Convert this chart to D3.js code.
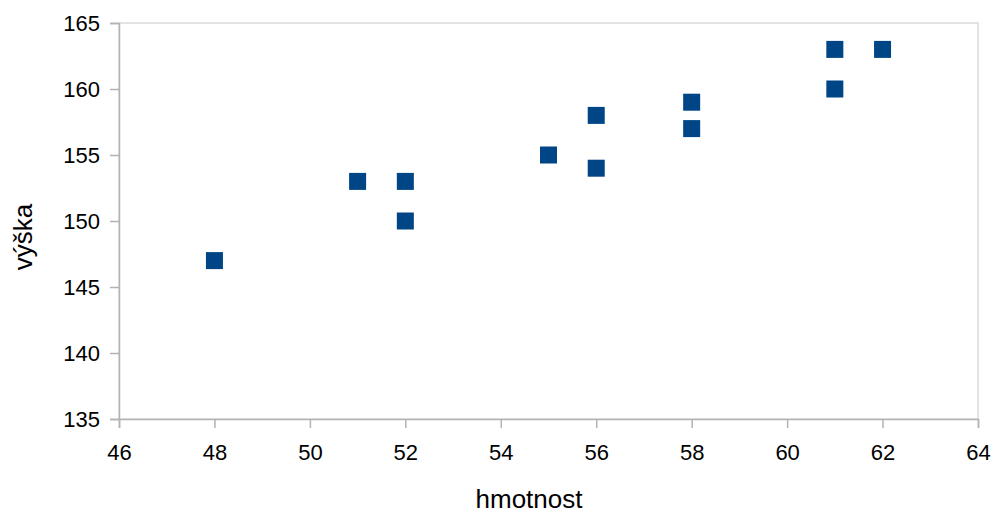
<!DOCTYPE html>
<html>
<head>
<meta charset="utf-8">
<script src="https://cdn.jsdelivr.net/npm/d3@7"></script>
<style>
  html, body { margin: 0; padding: 0; background: #fff; }
  svg { display: block; font-family: "Liberation Sans", Arial, sans-serif; }
</style>
</head>
<body>
<svg id="chart" width="993" height="514"></svg>
<script>
// weight (kg) vs height (cm)
const hmotnost = [48, 51, 52, 52, 55, 56, 56, 58, 58, 61, 61, 62];
const vyska    = [147, 153, 153, 150, 155, 158, 154, 159, 157, 163, 160, 163];
const xTicks = [46, 48, 50, 52, 54, 56, 58, 60, 62, 64];
const yTicks = [135, 140, 145, 150, 155, 160, 165];

const svg = d3.select("#chart");
const plot = { left: 119, right: 978, top: 23, bottom: 419 };

const x = d3.scaleLinear().domain([46, 64]).range([plot.left, plot.right]);
const y = d3.scaleLinear().domain([135, 165]).range([plot.bottom, plot.top]);

// plot frame
svg.append("rect")
  .attr("x", plot.left).attr("y", plot.top)
  .attr("width", plot.right - plot.left).attr("height", plot.bottom - plot.top)
  .attr("fill", "none").attr("stroke", "#c8c8c8").attr("stroke-width", 1);

const xAxis = svg.append("g")
  .attr("transform", `translate(0,${plot.bottom})`)
  .call(d3.axisBottom(x).tickValues(xTicks).tickSize(9).tickPadding(16).tickFormat(d3.format("d")));
const yAxis = svg.append("g")
  .attr("transform", `translate(${plot.left},0)`)
  .call(d3.axisLeft(y).tickValues(yTicks).tickSize(9).tickPadding(10).tickFormat(d3.format("d")));

[xAxis, yAxis].forEach(g => {
  g.select(".domain").attr("stroke", "#b3b3b3").attr("stroke-width", 1.5);
  g.selectAll(".tick line").attr("stroke", "#b3b3b3").attr("stroke-width", 1.5);
  g.selectAll(".tick text").attr("fill", "#000").style("font-size", "22px")
    .style("font-family", "'Liberation Sans', Arial, sans-serif");
});
yAxis.selectAll(".tick text").attr("dy", "0.36em");

// data points
const s = 17;
svg.append("g").selectAll("rect")
  .data(hmotnost.map((v, i) => [v, vyska[i]]))
  .join("rect")
  .attr("x", d => x(d[0]) - s / 2)
  .attr("y", d => y(d[1]) - s / 2)
  .attr("width", s).attr("height", s)
  .attr("fill", "#004586");

// axis titles
svg.append("text")
  .attr("x", 529).attr("y", 508)
  .attr("text-anchor", "middle")
  .style("font-size", "26px")
  .text("hmotnost");

svg.append("text")
  .attr("transform", `translate(32,237) rotate(-90)`)
  .attr("text-anchor", "middle")
  .style("font-size", "26px")
  .text("výška");
</script>
</body>
</html>
